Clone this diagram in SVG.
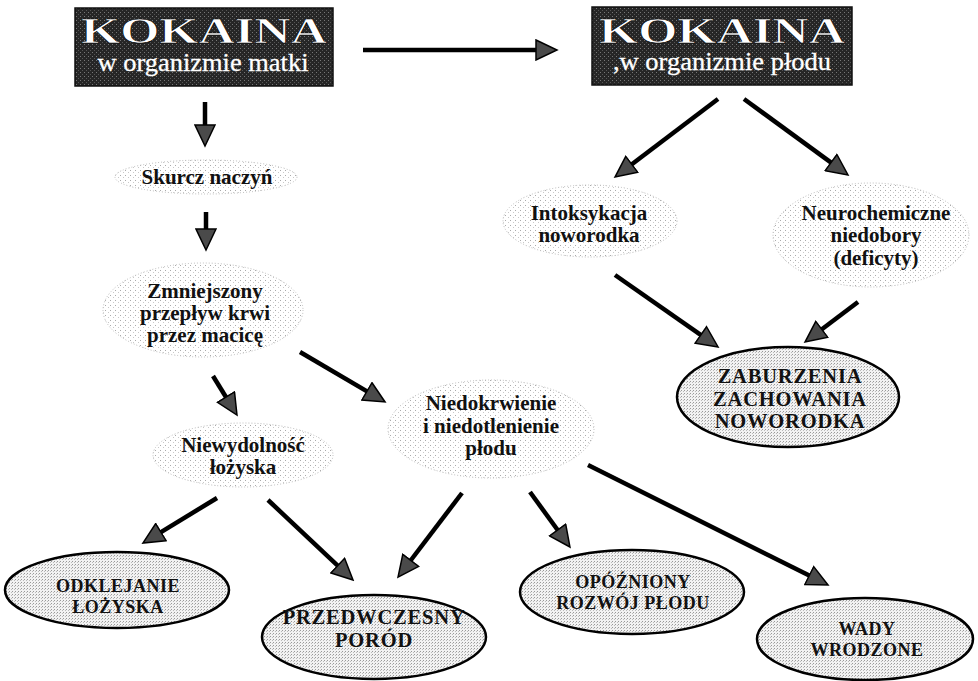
<svg xmlns="http://www.w3.org/2000/svg" width="978" height="681" viewBox="0 0 978 681">
<style>
.hdr{fill:url(#dark);stroke:#111;stroke-width:1.5}
.big{font-family:"Liberation Serif",serif;font-weight:bold;font-size:35px;fill:#fff;stroke:#000;stroke-width:0.6;text-anchor:middle}
.sub{font-family:"Liberation Serif",serif;font-size:25px;fill:#fff;stroke:#fff;stroke-width:0.3;text-anchor:middle}
.cloud{fill:url(#light);stroke:#bbb;stroke-width:1;stroke-dasharray:1 2}
.out{fill:url(#dense);stroke:#000;stroke-width:2.5}
.ct{font-family:"Liberation Serif",serif;font-weight:bold;font-size:21px;fill:#111;text-anchor:middle}
.ot{font-family:"Liberation Serif",serif;font-weight:bold;font-size:18px;letter-spacing:0.5px;fill:#111;text-anchor:middle}
.ot2{font-family:"Liberation Serif",serif;font-weight:bold;font-size:20.5px;letter-spacing:0.8px;fill:#111;text-anchor:middle}
.arr{fill:none;stroke:#000;stroke-width:4.5;marker-end:url(#ah)}
</style>
<defs>
<pattern id="dark" width="4" height="4" patternUnits="userSpaceOnUse">
<rect width="4" height="4" fill="#262626"/>
<rect x="0" y="0" width="1" height="1" fill="#777"/>
<rect x="2" y="2" width="1" height="1" fill="#555"/>
</pattern>
<pattern id="light" width="5" height="5" patternUnits="userSpaceOnUse">
<rect width="5" height="5" fill="#fff"/>
<rect x="0" y="0" width="1" height="1" fill="#aaa"/>
<rect x="3" y="2" width="1" height="1" fill="#c8c8c8"/>
</pattern>
<pattern id="dense" width="3" height="3" patternUnits="userSpaceOnUse">
<rect width="3" height="3" fill="#f2f2f2"/>
<rect x="0" y="0" width="1" height="1" fill="#999"/>
<rect x="2" y="1" width="1" height="1" fill="#bbb"/>
</pattern>
<marker id="ah" markerUnits="userSpaceOnUse" viewBox="0 0 24 22" markerWidth="24" markerHeight="22" refX="10" refY="11" orient="auto">
<path d="M1,1 L22,11 L1,21 Z" fill="#4a4a4a" stroke="#000" stroke-width="1.5"/>
</marker>
</defs>
<rect width="978" height="681" fill="#fff"/>

<g id="connectors">
<path class="arr" d="M363,50 L545,50"/>
<path class="arr" d="M205,102 L205,134"/>
<path class="arr" d="M206,212 L206,238"/>
<path class="arr" d="M213,376 L230.7,404.8"/>
<path class="arr" d="M300,352 L374.7,395.9"/>
<path class="arr" d="M217,498 L153.2,536.8"/>
<path class="arr" d="M268,500 L344.3,571.8"/>
<path class="arr" d="M462,493 L405.3,567.5"/>
<path class="arr" d="M530,492 L562.9,537.3"/>
<path class="arr" d="M588,465 L817.3,579.6"/>
<path class="arr" d="M718,99 L624.6,169.8"/>
<path class="arr" d="M744,99 L838.3,167.9"/>
<path class="arr" d="M615,275 L708.2,340.1"/>
<path class="arr" d="M858,302 L814.6,334.8"/>
</g>

<g id="kokaina-matka">
<rect class="hdr" x="75" y="8" width="258" height="78"/>
<text class="big" x="204" y="43" textLength="246" lengthAdjust="spacingAndGlyphs">KOKAINA</text>
<text class="sub" x="203" y="71" textLength="211" lengthAdjust="spacingAndGlyphs">w organizmie matki</text>
</g>

<g id="kokaina-plod">
<rect class="hdr" x="592" y="7" width="260" height="78"/>
<text class="big" x="722" y="43" textLength="246" lengthAdjust="spacingAndGlyphs">KOKAINA</text>
<text class="sub" x="722" y="70" textLength="218" lengthAdjust="spacingAndGlyphs">,w organizmie płodu</text>
</g>

<g id="skurcz">
<ellipse class="cloud" cx="206" cy="177" rx="91" ry="17"/>
<text class="ct" x="207" y="184">Skurcz naczyń</text>
</g>

<g id="zmniejszony">
<ellipse class="cloud" cx="203" cy="310" rx="100" ry="47"/>
<text class="ct" x="205" y="298">Zmniejszony</text>
<text class="ct" x="205" y="320">przepływ krwi</text>
<text class="ct" x="205" y="342">przez macicę</text>
</g>

<g id="niewydolnosc">
<ellipse class="cloud" cx="243" cy="455" rx="90" ry="32"/>
<text class="ct" x="243" y="452">Niewydolność</text>
<text class="ct" x="243" y="474">łożyska</text>
</g>

<g id="niedokrwienie">
<ellipse class="cloud" cx="491" cy="429" rx="103" ry="49"/>
<text class="ct" x="491" y="410">Niedokrwienie</text>
<text class="ct" x="491" y="433">i niedotlenienie</text>
<text class="ct" x="491" y="455">płodu</text>
</g>

<g id="intoksykacja">
<ellipse class="cloud" cx="590" cy="221" rx="87" ry="36"/>
<text class="ct" x="589" y="220">Intoksykacja</text>
<text class="ct" x="589" y="242">noworodka</text>
</g>

<g id="neurochemiczne">
<ellipse class="cloud" cx="871" cy="235" rx="98" ry="52"/>
<text class="ct" x="876" y="220">Neurochemiczne</text>
<text class="ct" x="876" y="242">niedobory</text>
<text class="ct" x="876" y="265">(deficyty)</text>
</g>

<g id="zaburzenia">
<ellipse class="out" cx="788" cy="397" rx="111" ry="50"/>
<text class="ot2" x="790" y="383">ZABURZENIA</text>
<text class="ot2" x="790" y="406">ZACHOWANIA</text>
<text class="ot2" x="790" y="428">NOWORODKA</text>
</g>

<g id="odklejanie">
<ellipse class="out" cx="117" cy="590" rx="112" ry="38"/>
<text class="ot" x="118" y="592">ODKLEJANIE</text>
<text class="ot" x="118" y="613">ŁOŻYSKA</text>
</g>

<g id="przedwczesny">
<ellipse class="out" cx="374" cy="637" rx="112" ry="42"/>
<text class="ot2" x="374" y="624">PRZEDWCZESNY</text>
<text class="ot2" x="374" y="647">PORÓD</text>
</g>

<g id="opozniony">
<ellipse class="out" cx="632" cy="592" rx="112" ry="42"/>
<text class="ot" x="633" y="588">OPÓŹNIONY</text>
<text class="ot" x="633" y="609">ROZWÓJ PŁODU</text>
</g>

<g id="wady">
<ellipse class="out" cx="865" cy="639" rx="108" ry="41"/>
<text class="ot" x="867" y="635">WADY</text>
<text class="ot" x="867" y="656">WRODZONE</text>
</g>
</svg>
